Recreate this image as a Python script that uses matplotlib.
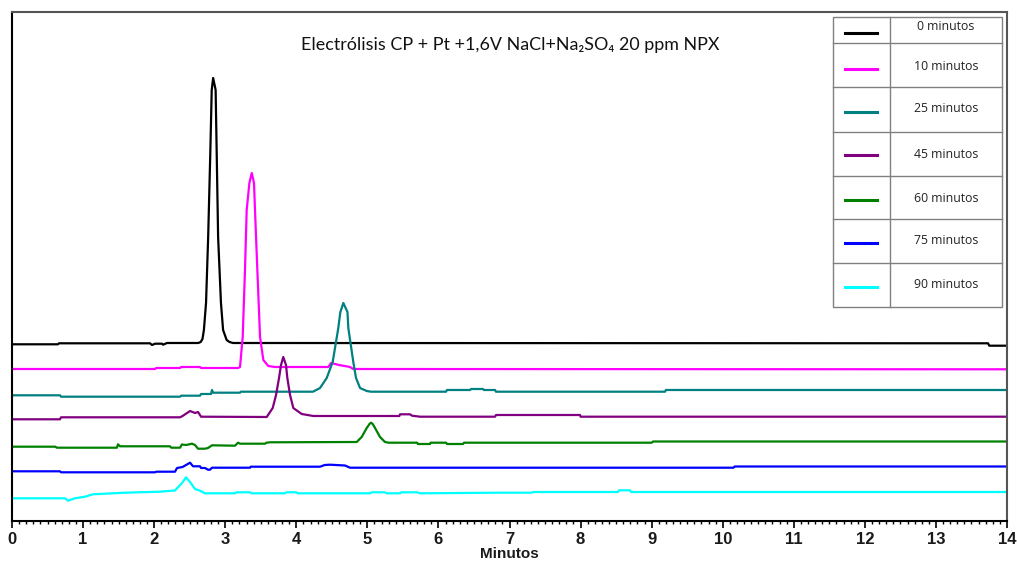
import matplotlib
matplotlib.use('Agg')
import matplotlib.pyplot as plt
from matplotlib.lines import Line2D
from matplotlib.patches import Rectangle
from matplotlib.ticker import MultipleLocator

# Chromatogram traces: retention time (min) and detector signal (a.u., traces already stacked)
labels = ['0 minutos', '10 minutos', '25 minutos', '45 minutos', '60 minutos', '75 minutos', '90 minutos']

t_0 = [0, 0.647, 0.66, 1.942, 1.97, 2.012, 2.111, 2.125, 2.181, 2.62, 2.655, 2.68, 2.70, 2.73, 2.76,
       2.79, 2.81, 2.83, 2.865, 2.88, 2.90, 2.94, 2.97, 3.02, 3.06, 3.11, 13.733, 13.75, 14]
s_0 = [176.7, 176.7, 177.7, 177.7, 176, 177.3, 177.3, 176.3, 178, 178, 179, 182, 191, 218, 284,
       368, 431, 443, 431, 368, 284, 218, 191, 181, 179, 178, 177.7, 175.3, 175.3]

t_10 = [0, 2.012, 2.03, 2.364, 2.38, 2.645, 2.66, 3.18, 3.208, 3.246, 3.278, 3.302, 3.34, 3.373,
        3.405, 3.419, 3.452, 3.490, 3.536, 3.606, 3.70, 4.45, 4.49, 4.60, 4.756, 4.80, 14]
s_10 = [152, 152, 153, 153, 154, 154, 153, 153, 154, 184, 251, 311, 338, 348,
        338, 311, 251, 184, 161, 155, 154, 154, 158, 156, 154, 152, 151.7]

t_25 = [0, 0.675, 0.69, 2.364, 2.38, 2.645, 2.66, 2.80, 2.814, 2.83, 3.208, 3.22, 4.235, 4.334,
        4.428, 4.512, 4.591, 4.62, 4.662, 4.72, 4.732, 4.802, 4.840, 4.897, 4.991, 5.05, 6.107,
        6.12, 6.444, 6.46, 6.627, 6.64, 6.796, 6.81, 9.188, 9.2, 14]
s_25 = [125.7, 125.7, 124.3, 124.3, 125.3, 125.3, 127, 127, 131, 128.3, 128.3, 129.3, 129.3, 133,
        143, 159, 193, 209, 218, 209, 193, 159, 143, 133, 130, 129.3, 129.3,
        131, 131, 132, 132, 131, 131, 129.3, 129.3, 131, 131]

t_45 = [0, 0.675, 0.69, 2.364, 2.40, 2.505, 2.575, 2.617, 2.66, 3.584, 3.668, 3.715, 3.757, 3.785,
        3.817, 3.855, 3.874, 3.912, 3.958, 4.076, 4.240, 5.45, 5.46, 5.60, 5.628, 5.74, 6.796,
        6.81, 7.992, 8.0, 14]
s_45 = [101.7, 101.7, 103.7, 103.7, 105, 110, 108, 109, 104.3, 104, 113, 126, 143, 156,
        164, 156, 143, 126, 113, 107, 105, 105, 106.7, 106.7, 105.3, 104.3, 104.3,
        106, 106, 104.3, 104.3]

t_60 = [0, 0.61, 0.63, 1.477, 1.491, 1.52, 2.223, 2.24, 2.364, 2.39, 2.45, 2.533, 2.575, 2.617,
        2.716, 2.758, 2.814, 3.138, 3.18, 3.208, 3.560, 3.58, 3.63, 4.85, 4.920, 4.991, 5.03,
        5.051, 5.075, 5.108, 5.178, 5.248, 5.30, 5.699, 5.71, 5.881, 5.89, 6.107, 6.12, 6.346,
        6.36, 9.0, 9.02, 14]
s_60 = [74.3, 74.3, 73.3, 73.3, 76.7, 74.7, 74.7, 73.3, 73.3, 76.5, 76, 77.3, 76, 72.3,
        72.3, 73, 75.7, 75.3, 78.3, 77.3, 77.3, 78.3, 78.7, 79, 84, 93, 97,
        98.3, 97, 93, 84, 79, 78.3, 78.3, 77, 77, 78.3, 78.3, 77, 77,
        78.3, 78.3, 79.5, 79.5]

t_75 = [0, 0.675, 0.69, 2.012, 2.03, 2.293, 2.322, 2.40, 2.505, 2.547, 2.645, 2.66, 2.716, 2.758,
        2.786, 2.814, 3.349, 3.36, 4.334, 4.40, 4.474, 4.685, 4.756, 10.15, 10.17, 14]
s_75 = [49.7, 49.7, 48.7, 48.7, 49.3, 49.3, 53, 54, 58.3, 54.7, 54.7, 53, 53, 51.3,
        51.3, 53.3, 53.3, 54.3, 54.3, 56, 56.3, 55.5, 53.3, 53.3, 54.5, 54.5]

t_90 = [0, 0.746, 0.788, 0.886, 1.027, 1.140, 1.59, 2.082, 2.293, 2.392, 2.448, 2.505, 2.575, 2.645,
        2.716, 3.138, 3.16, 3.35, 3.37, 3.84, 3.86, 4.0, 4.02, 5.037, 5.06, 5.248, 5.27, 5.459,
        5.48, 5.70, 5.741, 6.866, 7.317, 7.33, 8.527, 8.54, 8.696, 8.71, 14]
s_90 = [22.7, 22.7, 20.3, 22.7, 24.3, 26.7, 28.3, 29.3, 30.5, 38, 43.7, 39, 32, 30.3,
        27.7, 27.7, 28.7, 28.7, 27.7, 27.7, 28.7, 28.7, 27.7, 27.7, 28.7, 28.7, 27.7, 27.7,
        28.7, 28.7, 27.7, 28.3, 28.3, 29, 29, 30.7, 30.7, 29, 29]

times = [t_0, t_10, t_25, t_45, t_60, t_75, t_90]
signals = [s_0, s_10, s_25, s_45, s_60, s_75, s_90]
colors = ['#000000', '#FF00FF', '#008080', '#800080', '#008000', '#0000FF', '#00FFFF']

fig = plt.figure(figsize=(10.17, 5.63), dpi=100)
ax = fig.add_axes([0.0118, 0.0746, 0.9784, 0.9041])

for t, s, c in zip(times, signals, colors):
    ax.plot(t, s, color=c, linewidth=1.6)

ax.set_xlim(0, 14)
ax.set_ylim(0, 509)
ax.set_yticks([])
ax.xaxis.set_major_locator(MultipleLocator(1))
ax.xaxis.set_minor_locator(MultipleLocator(0.1))
ax.tick_params(axis='x', which='major', length=5, width=1.2, direction='out', pad=3)
ax.tick_params(axis='x', which='minor', length=2.5, width=1, direction='out')
for lab in ax.get_xticklabels():
    lab.set_fontfamily('Liberation Sans')
    lab.set_fontweight('bold')
    lab.set_fontsize(12)
    lab.set_color('#1a1a1a')

for side in ['left', 'bottom']:
    ax.spines[side].set_color('black')
    ax.spines[side].set_linewidth(1.5)
for side in ['top', 'right']:
    ax.spines[side].set_color('#555555')
    ax.spines[side].set_linewidth(1.5)

ax.set_xlabel('Minutos', fontfamily='Liberation Sans', fontweight='bold', fontsize=11,
              color='#1a1a1a', labelpad=0)

fig.text(510 / 1017, 1 - 45 / 563, 'Electrólisis CP + Pt +1,6V NaCl+Na₂SO₄ 20 ppm NPX',
         ha='center', va='center', fontsize=12.9, family=['Lato', 'DejaVu Sans'], color='#111111')

# table-style legend in the upper right corner
W, H = 1017.0, 563.0
row_edges = [16.7, 42.7, 87.3, 131.7, 175.7, 219.3, 263.3, 306.7]
line_y = [33.3, 69.3, 112, 155, 200, 243.3, 287.3]
text_y = [26, 66, 108.3, 154, 198.3, 240.7, 285]
x0, xm, x1 = 833.3, 890, 1001.7
edge = '#808080'
fig.patches.append(Rectangle((x0 / W, 1 - row_edges[-1] / H), (x1 - x0) / W,
                             (row_edges[-1] - row_edges[0]) / H, transform=fig.transFigure,
                             facecolor='white', edgecolor=edge, linewidth=1.0, zorder=5))
fig.lines.append(Line2D([xm / W, xm / W], [1 - row_edges[0] / H, 1 - row_edges[-1] / H],
                        transform=fig.transFigure, color=edge, linewidth=1.0, zorder=6))
for yb in row_edges[1:-1]:
    fig.lines.append(Line2D([x0 / W, x1 / W], [1 - yb / H, 1 - yb / H],
                            transform=fig.transFigure, color=edge, linewidth=1.0, zorder=6))
for lab, c, ly, ty in zip(labels, colors, line_y, text_y):
    fig.lines.append(Line2D([845 / W, 877 / W], [1 - ly / H, 1 - ly / H],
                            transform=fig.transFigure, color=c, linewidth=2.2, zorder=7))
    fig.text(946 / W, 1 - ty / H, lab, ha='center', va='center', fontsize=8.8,
             family=['Open Sans', 'DejaVu Sans'], color='#222222', zorder=7)

fig.savefig('out.png', dpi=100)
